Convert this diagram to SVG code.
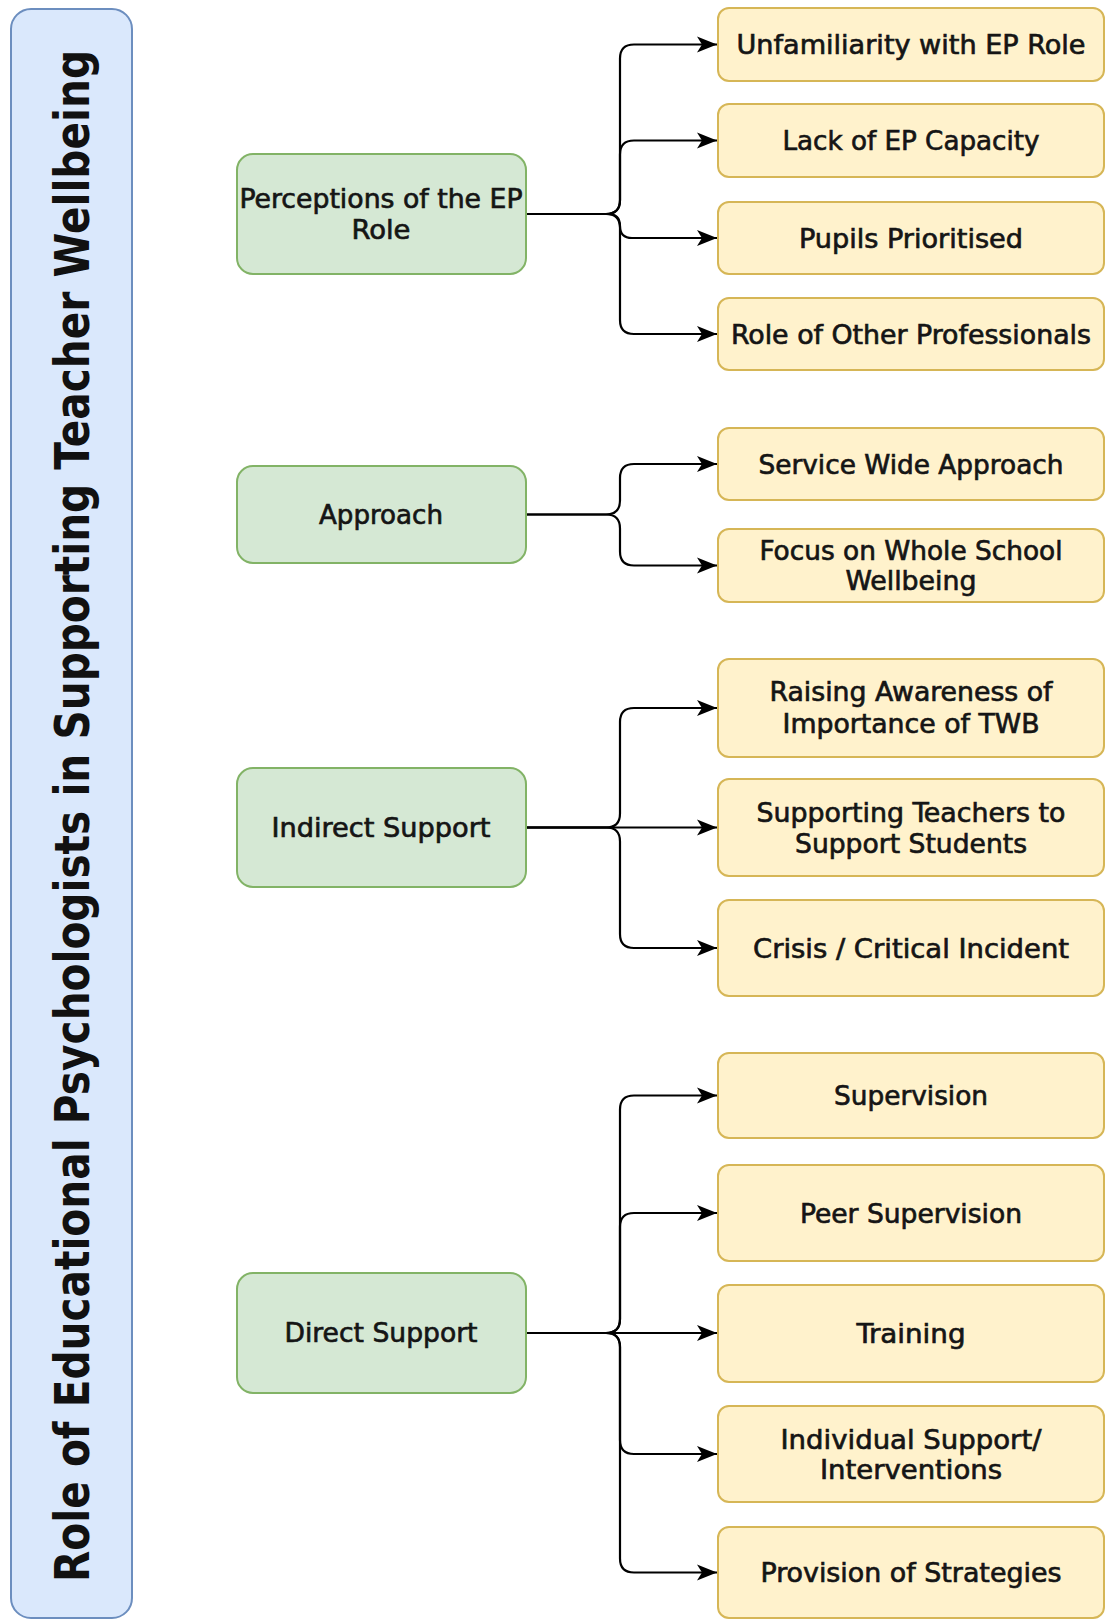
<svg xmlns="http://www.w3.org/2000/svg" width="1108" height="1620" viewBox="0 0 1108 1620">
<style>
.title{fill:#dae8fc;stroke:#6c8ebf;stroke-width:2}
.g{fill:#d5e8d4;stroke:#82b366;stroke-width:2}
.y{fill:#fff2cc;stroke:#d6b656;stroke-width:2}
.t{font-family:"DejaVu Sans Condensed","DejaVu Sans",sans-serif;font-size:26px;fill:#151515;stroke:#151515;stroke-width:0.6px;text-anchor:middle}
.tt{font-family:"DejaVu Sans","Liberation Sans",sans-serif;font-size:37px;font-weight:bold;fill:#111;text-anchor:middle}
.c{fill:none;stroke:#000;stroke-width:2.2}
</style>
<defs>
<marker id="arr" markerUnits="userSpaceOnUse" markerWidth="21" markerHeight="18" refX="20" refY="9" orient="auto">
<path d="M0,1 L20,9 L0,17 L5,9 Z" fill="#000"/>
</marker>
</defs>

<g id="title">
<rect class="title" x="11" y="9" width="121" height="1609" rx="20"/>
<text class="tt" transform="translate(89,816) rotate(-90) scale(1,1.3)" textLength="1532" lengthAdjust="spacingAndGlyphs">Role of Educational Psychologists in Supporting Teacher Wellbeing</text>
</g>

<g id="connectors">
<path class="c" marker-end="url(#arr)" d="M526,214 L606,214 Q620,214 620,200 L620,58.5 Q620,44.5 634,44.5 L717,44.5"/>
<path class="c" marker-end="url(#arr)" d="M526,214 L606,214 Q620,214 620,200 L620,154.5 Q620,140.5 634,140.5 L717,140.5"/>
<path class="c" marker-end="url(#arr)" d="M526,214 L608,214 Q620,214 620,226 Q620,238 632,238 L717,238"/>
<path class="c" marker-end="url(#arr)" d="M526,214 L606,214 Q620,214 620,228 L620,320 Q620,334 634,334 L717,334"/>

<path class="c" marker-end="url(#arr)" d="M526,514.5 L606,514.5 Q620,514.5 620,500.5 L620,478 Q620,464 634,464 L717,464"/>
<path class="c" marker-end="url(#arr)" d="M526,514.5 L606,514.5 Q620,514.5 620,528.5 L620,551.5 Q620,565.5 634,565.5 L717,565.5"/>

<path class="c" marker-end="url(#arr)" d="M526,827.5 L606,827.5 Q620,827.5 620,813.5 L620,722 Q620,708 634,708 L717,708"/>
<path class="c" marker-end="url(#arr)" d="M526,827.5 L717,827.5"/>
<path class="c" marker-end="url(#arr)" d="M526,827.5 L606,827.5 Q620,827.5 620,841.5 L620,934 Q620,948 634,948 L717,948"/>

<path class="c" marker-end="url(#arr)" d="M526,1333 L606,1333 Q620,1333 620,1319 L620,1109.5 Q620,1095.5 634,1095.5 L717,1095.5"/>
<path class="c" marker-end="url(#arr)" d="M526,1333 L606,1333 Q620,1333 620,1319 L620,1227 Q620,1213 634,1213 L717,1213"/>
<path class="c" marker-end="url(#arr)" d="M526,1333 L717,1333"/>
<path class="c" marker-end="url(#arr)" d="M526,1333 L606,1333 Q620,1333 620,1347 L620,1440 Q620,1454 634,1454 L717,1454"/>
<path class="c" marker-end="url(#arr)" d="M526,1333 L606,1333 Q620,1333 620,1347 L620,1558.5 Q620,1572.5 634,1572.5 L717,1572.5"/>
</g>

<g id="perceptions">
<rect class="g" x="237" y="154" width="289" height="120" rx="16"/>
<text class="t" x="381" y="208" textLength="283" lengthAdjust="spacingAndGlyphs">Perceptions of the EP</text>
<text class="t" x="381" y="239" textLength="59" lengthAdjust="spacingAndGlyphs">Role</text>
</g>
<g id="approach">
<rect class="g" x="237" y="466" width="289" height="97" rx="16"/>
<text class="t" x="381" y="524" textLength="124" lengthAdjust="spacingAndGlyphs">Approach</text>
</g>
<g id="indirect">
<rect class="g" x="237" y="768" width="289" height="119" rx="16"/>
<text class="t" x="381" y="837" textLength="219" lengthAdjust="spacingAndGlyphs">Indirect Support</text>
</g>
<g id="direct">
<rect class="g" x="237" y="1273" width="289" height="120" rx="16"/>
<text class="t" x="381" y="1342" textLength="193" lengthAdjust="spacingAndGlyphs">Direct Support</text>
</g>

<g id="unfamiliarity">
<rect class="y" x="718" y="8" width="386" height="73" rx="11"/>
<text class="t" x="911" y="54" textLength="349" lengthAdjust="spacingAndGlyphs">Unfamiliarity with EP Role</text>
</g>
<g id="lack">
<rect class="y" x="718" y="104" width="386" height="73" rx="11"/>
<text class="t" x="911" y="150" textLength="257" lengthAdjust="spacingAndGlyphs">Lack of EP Capacity</text>
</g>
<g id="pupils">
<rect class="y" x="718" y="202" width="386" height="72" rx="11"/>
<text class="t" x="911" y="247.5" textLength="224" lengthAdjust="spacingAndGlyphs">Pupils Prioritised</text>
</g>
<g id="otherprof">
<rect class="y" x="718" y="298" width="386" height="72" rx="11"/>
<text class="t" x="911" y="343.5" textLength="360" lengthAdjust="spacingAndGlyphs">Role of Other Professionals</text>
</g>
<g id="servicewide">
<rect class="y" x="718" y="428" width="386" height="72" rx="11"/>
<text class="t" x="911" y="473.5" textLength="305" lengthAdjust="spacingAndGlyphs">Service Wide Approach</text>
</g>
<g id="focus">
<rect class="y" x="718" y="529" width="386" height="73" rx="11"/>
<text class="t" x="911" y="560" textLength="303" lengthAdjust="spacingAndGlyphs">Focus on Whole School</text>
<text class="t" x="911" y="590" textLength="131" lengthAdjust="spacingAndGlyphs">Wellbeing</text>
</g>
<g id="raising">
<rect class="y" x="718" y="659" width="386" height="98" rx="11"/>
<text class="t" x="911" y="701" textLength="283" lengthAdjust="spacingAndGlyphs">Raising Awareness of</text>
<text class="t" x="911" y="733" textLength="257" lengthAdjust="spacingAndGlyphs">Importance of TWB</text>
</g>
<g id="supporting">
<rect class="y" x="718" y="779" width="386" height="97" rx="11"/>
<text class="t" x="911" y="822" textLength="309" lengthAdjust="spacingAndGlyphs">Supporting Teachers to</text>
<text class="t" x="911" y="853" textLength="232" lengthAdjust="spacingAndGlyphs">Support Students</text>
</g>
<g id="crisis">
<rect class="y" x="718" y="900" width="386" height="96" rx="11"/>
<text class="t" x="911" y="958" textLength="316" lengthAdjust="spacingAndGlyphs">Crisis / Critical Incident</text>
</g>
<g id="supervision">
<rect class="y" x="718" y="1053" width="386" height="85" rx="11"/>
<text class="t" x="911" y="1105" textLength="154" lengthAdjust="spacingAndGlyphs">Supervision</text>
</g>
<g id="peer">
<rect class="y" x="718" y="1165" width="386" height="96" rx="11"/>
<text class="t" x="911" y="1223" textLength="222" lengthAdjust="spacingAndGlyphs">Peer Supervision</text>
</g>
<g id="training">
<rect class="y" x="718" y="1285" width="386" height="97" rx="11"/>
<text class="t" x="911" y="1343" textLength="109" lengthAdjust="spacingAndGlyphs">Training</text>
</g>
<g id="individual">
<rect class="y" x="718" y="1406" width="386" height="96" rx="11"/>
<text class="t" x="911" y="1449" textLength="261" lengthAdjust="spacingAndGlyphs">Individual Support/</text>
<text class="t" x="911" y="1479" textLength="182" lengthAdjust="spacingAndGlyphs">Interventions</text>
</g>
<g id="provision">
<rect class="y" x="718" y="1527" width="386" height="91" rx="11"/>
<text class="t" x="911" y="1582" textLength="301" lengthAdjust="spacingAndGlyphs">Provision of Strategies</text>
</g>
</svg>
